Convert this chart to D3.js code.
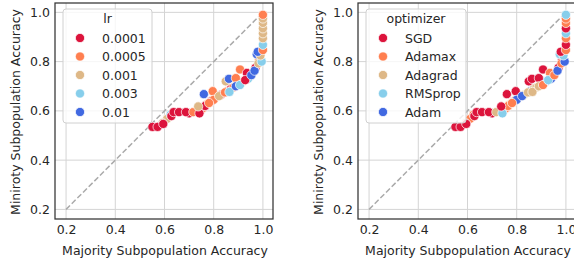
<!DOCTYPE html>
<html>
<head>
<meta charset="utf-8">
<script src="https://cdn.jsdelivr.net/npm/d3@7"></script>
<style>
  body { margin: 0; background: #fff; }
  svg { display: block; font-family: "DejaVu Sans", sans-serif; }
</style>
</head>
<body>
<div id="chart"></div>
<script>
// majority / minority subpopulation accuracy per run, with its lr and optimizer
var majorityAcc = [0.77, 0.79, 0.81, 0.83, 0.855, 0.87, 0.88, 0.90, 0.92, 0.94, 0.955, 0.97, 0.985, 0.975, 0.70, 0.755, 0.74, 0.765, 0.611, 0.592, 0.625,
    0.551, 0.572, 0.595, 0.628, 0.637, 0.659, 0.687, 0.717, 0.742, 0.737, 0.76, 0.796, 0.80, 0.781, 0.822, 0.846, 0.849, 0.862, 0.864, 0.89,
    0.907, 0.89, 0.907, 0.935, 0.928, 0.953, 0.966, 0.982, 0.995, 0.99, 0.979, 1.0, 1.0, 1.0, 1.0, 1.0, 1.0, 1.0, 1.0];
var minorityAcc = [0.625, 0.64, 0.655, 0.665, 0.68, 0.69, 0.695, 0.71, 0.72, 0.73, 0.75, 0.775, 0.81, 0.83, 0.59, 0.61, 0.60, 0.62, 0.568, 0.55, 0.585,
    0.535, 0.535, 0.547, 0.579, 0.595, 0.595, 0.595, 0.595, 0.59, 0.618, 0.668, 0.68, 0.645, 0.632, 0.66, 0.675, 0.72, 0.73, 0.677, 0.733,
    0.768, 0.70, 0.705, 0.754, 0.725, 0.745, 0.763, 0.793, 0.80, 0.825, 0.84, 0.847, 0.868, 0.895, 0.915, 0.935, 0.957, 0.975, 0.99];
var lrValues = ["0.0005", "0.0001", "0.0005", "0.0001", "0.0005", "0.0001", "0.0005", "0.0001", "0.0005", "0.003", "0.0001", "0.0001", "0.0005", "0.01", "0.0001", "0.0005", "0.0005", "0.0001", "0.001", "0.001", "0.003",
    "0.0001", "0.0001", "0.0001", "0.0001", "0.0001", "0.0001", "0.0001", "0.0005", "0.0001", "0.001", "0.01", "0.0005", "0.0005", "0.0005", "0.001", "0.0005", "0.001", "0.01", "0.003", "0.0005",
    "0.0005", "0.01", "0.003", "0.0001", "0.0001", "0.01", "0.01", "0.001", "0.003", "0.001", "0.01", "0.0005", "0.003", "0.001", "0.001", "0.001", "0.001", "0.001", "0.0005"];
var optimizerValues = ["Adagrad", "Adamax", "Adagrad", "Adagrad", "Adam", "Adagrad", "Adagrad", "RMSprop", "Adam", "Adam", "RMSprop", "SGD", "SGD", "RMSprop", "SGD", "Adamax", "Adagrad", "Adamax", "Adamax", "Adagrad", "Adamax",
    "SGD", "SGD", "SGD", "SGD", "SGD", "SGD", "SGD", "Adagrad", "RMSprop", "SGD", "SGD", "SGD", "Adam", "Adamax", "Adam", "Adagrad", "SGD", "SGD", "Adagrad", "SGD",
    "SGD", "Adagrad", "Adamax", "Adamax", "RMSprop", "Adamax", "Adam", "Adamax", "Adam", "RMSprop", "SGD", "Adamax", "SGD", "Adamax", "RMSprop", "SGD", "Adamax", "Adamax", "RMSprop"];

var lrLevels = ["0.0001", "0.0005", "0.001", "0.003", "0.01"];
var optimizerLevels = ["SGD", "Adamax", "Adagrad", "RMSprop", "Adam"];
var palette = ["crimson", "coral", "burlywood", "skyblue", "royalblue"];
var xTicks = [0.2, 0.4, 0.6, 0.8, 1.0];
var yTicks = [0.2, 0.4, 0.6, 0.8, 1.0];

var width = 574, height = 263;
var fs = 12.5;

var svg = d3.select("#chart").append("svg")
    .attr("width", width)
    .attr("height", height);

var x = d3.scaleLinear().domain([0.155, 1.041]).range([55, 273]);
var y = d3.scaleLinear().domain([0.161, 1.038]).range([219, 3]);

var rows = majorityAcc.map(function (d, i) {
    return { maj: d, min: minorityAcc[i], lr: lrValues[i], optimizer: optimizerValues[i] };
});

function drawPanel(offset, hueKey, levels, title, legendW) {
    var color = d3.scaleOrdinal().domain(levels).range(palette);
    var g = svg.append("g").attr("transform", "translate(" + offset + ",0)");

    // grid
    g.selectAll(".gx").data(xTicks).enter().append("line")
        .attr("x1", function (d) { return x(d); })
        .attr("x2", function (d) { return x(d); })
        .attr("y1", y.range()[0]).attr("y2", y.range()[1])
        .attr("stroke", "#d4d4d4").attr("stroke-width", 1);
    g.selectAll(".gy").data(yTicks).enter().append("line")
        .attr("y1", function (d) { return y(d); })
        .attr("y2", function (d) { return y(d); })
        .attr("x1", x.range()[0]).attr("x2", x.range()[1])
        .attr("stroke", "#d4d4d4").attr("stroke-width", 1);

    // diagonal reference
    g.append("line")
        .attr("x1", x(0.2)).attr("y1", y(0.2))
        .attr("x2", x(1.0)).attr("y2", y(1.0))
        .attr("stroke", "#aaaaaa")
        .attr("stroke-width", 1.5)
        .attr("stroke-dasharray", "5.5,2.5");

    g.selectAll(".dot").data(rows).enter().append("circle")
        .attr("cx", function (d) { return x(d.maj); })
        .attr("cy", function (d) { return y(d.min); })
        .attr("r", 4.6)
        .attr("fill", function (d) { return color(d[hueKey]); })
        .attr("stroke", "#fff")
        .attr("stroke-width", 0.7);

    // axes
    var xAxis = g.append("g").attr("transform", "translate(0,219)")
        .call(d3.axisBottom(x).tickValues(xTicks).tickFormat(d3.format(".1f")).tickSize(0).tickPadding(6));
    var yAxis = g.append("g").attr("transform", "translate(55,0)")
        .call(d3.axisLeft(y).tickValues(yTicks).tickFormat(d3.format(".1f")).tickSize(0).tickPadding(5));
    [xAxis, yAxis].forEach(function (a) {
        a.select(".domain").remove();
        a.selectAll("text").attr("font-size", fs).attr("fill", "#262626")
            .attr("font-family", "DejaVu Sans, sans-serif");
    });

    // frame
    g.append("rect")
        .attr("x", 55).attr("y", 3)
        .attr("width", 218).attr("height", 216)
        .attr("fill", "none")
        .attr("stroke", "#333")
        .attr("stroke-width", 1.25);

    g.append("text")
        .attr("x", (x.range()[0] + x.range()[1]) / 2 + 1)
        .attr("y", 255)
        .attr("text-anchor", "middle")
        .attr("font-size", fs)
        .attr("fill", "#262626")
        .text("Majority Subpopulation Accuracy");

    g.append("text")
        .attr("transform", "translate(20,112) rotate(-90)")
        .attr("text-anchor", "middle")
        .attr("font-size", fs)
        .attr("fill", "#262626")
        .text("Miniroty Subpopulation Accuracy");

    // legend
    var lg = g.append("g").attr("transform", "translate(63,9)");
    lg.append("rect")
        .attr("width", legendW).attr("height", 114)
        .attr("rx", 3)
        .attr("fill", "#fff").attr("fill-opacity", 0.8)
        .attr("stroke", "#d0d0d0");
    lg.append("text")
        .attr("x", legendW / 2).attr("y", 14)
        .attr("text-anchor", "middle")
        .attr("font-size", fs).attr("fill", "#262626")
        .text(title);
    var item = lg.selectAll(".item").data(levels).enter().append("g")
        .attr("transform", function (d, i) { return "translate(0," + (29 + i * 18.5) + ")"; });
    item.append("circle")
        .attr("cx", 17).attr("r", 4.6)
        .attr("fill", function (d) { return color(d); })
        .attr("stroke", "#fff").attr("stroke-width", 0.7);
    item.append("text")
        .attr("x", 39).attr("y", 4.5)
        .attr("font-size", fs).attr("fill", "#262626")
        .text(function (d) { return d; });
}

drawPanel(0, "lr", lrLevels, "lr", 89);
drawPanel(303, "optimizer", optimizerLevels, "optimizer", 100);
</script>
</body>
</html>
